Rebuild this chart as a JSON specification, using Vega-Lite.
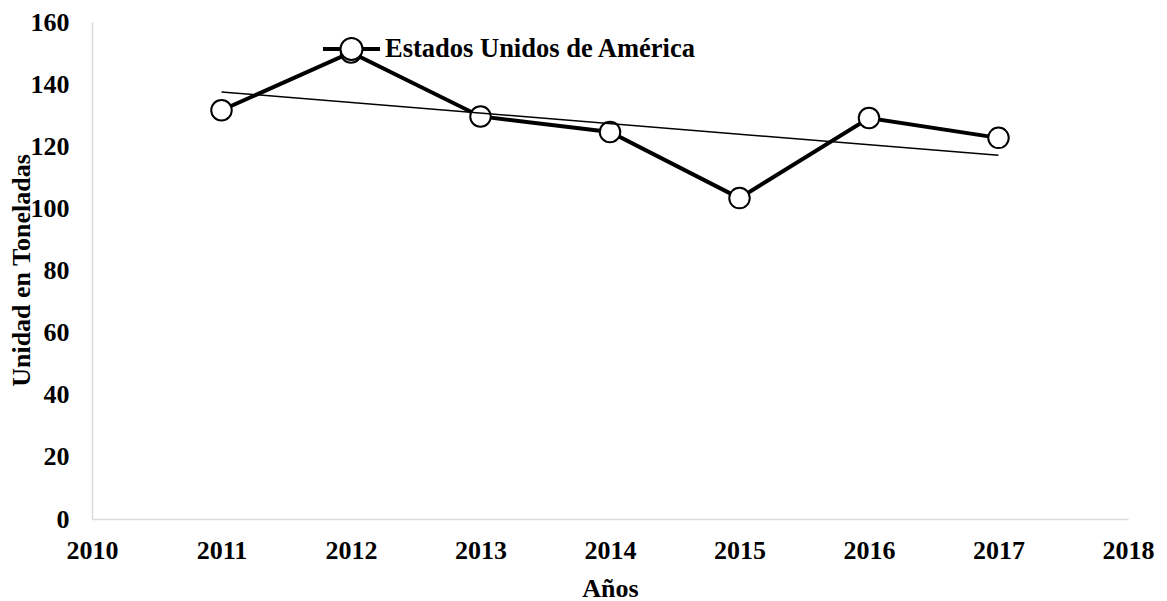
{
  "$schema": "https://vega.github.io/schema/vega-lite/v6.json",
  "width": 1036,
  "height": 497,
  "autosize": "none",
  "padding": {"left": 92, "top": 22, "right": 39, "bottom": 82},
  "background": "white",
  "config": {
    "view": {"stroke": null},
    "font": "Liberation Serif",
    "axis": {
      "grid": false,
      "ticks": false,
      "domainColor": "#d9d9d9",
      "domainWidth": 1.5,
      "labelFont": "Liberation Serif",
      "labelFontSize": 26,
      "labelFontWeight": "bold",
      "labelColor": "black",
      "titleFont": "Liberation Serif",
      "titleFontSize": 26,
      "titleFontWeight": "bold",
      "titleColor": "black"
    }
  },
  "data": {
    "values": [
      {"anio": 2011, "valor": 131.6, "serie": "Estados Unidos de América"},
      {"anio": 2012, "valor": 150.2, "serie": "Estados Unidos de América"},
      {"anio": 2013, "valor": 129.6, "serie": "Estados Unidos de América"},
      {"anio": 2014, "valor": 124.6, "serie": "Estados Unidos de América"},
      {"anio": 2015, "valor": 103.3, "serie": "Estados Unidos de América"},
      {"anio": 2016, "valor": 129.1, "serie": "Estados Unidos de América"},
      {"anio": 2017, "valor": 122.7, "serie": "Estados Unidos de América"}
    ]
  },
  "encoding": {
    "x": {
      "field": "anio",
      "type": "quantitative",
      "scale": {"domain": [2010, 2018], "nice": false, "zero": false},
      "axis": {
        "title": "Años",
        "values": [2010, 2011, 2012, 2013, 2014, 2015, 2016, 2017, 2018],
        "format": "d",
        "labelPadding": 18,
        "labelBaseline": "top",
        "labelFlush": false,
        "labelOverlap": false,
        "titleX": 518,
        "titleY": 69,
        "titleBaseline": "middle",
        "titleAlign": "center"
      }
    },
    "y": {
      "field": "valor",
      "type": "quantitative",
      "scale": {"domain": [0, 160], "nice": false},
      "axis": {
        "title": "Unidad en Toneladas",
        "values": [0, 20, 40, 60, 80, 100, 120, 140, 160],
        "labelPadding": 23,
        "labelFlush": false,
        "labelOverlap": false,
        "titleAngle": -90,
        "titleX": -71,
        "titleY": 248,
        "titleBaseline": "middle",
        "titleAlign": "center"
      }
    }
  },
  "layer": [
    {
      "mark": {"type": "line", "color": "black", "strokeWidth": 4},
      "encoding": {}
    },
    {
      "mark": {"type": "point", "shape": "circle", "filled": false, "fill": "white", "fillOpacity": 1, "opacity": 1, "strokeWidth": 2, "size": 420},
      "encoding": {
        "stroke": {
          "field": "serie",
          "type": "nominal",
          "scale": {"range": ["black"]},
          "legend": {
            "title": null,
            "orient": "none",
            "legendX": 231,
            "legendY": -1.5,
            "padding": 0,
            "symbolType": "M-1,-0.036H-0.4V0.036H-1Z M0.4,-0.036H1V0.036H0.4Z M-0.4,0A0.4,0.4,0,1,1,0.4,0A0.4,0.4,0,1,1,-0.4,0Z",
            "symbolSize": 3025,
            "symbolFillColor": "white",
            "symbolStrokeColor": "black",
            "symbolStrokeWidth": 2,
            "symbolOpacity": 1,
            "labelFont": "Liberation Serif",
            "labelFontSize": 26.5,
            "labelFontWeight": "bold",
            "labelColor": "black",
            "labelOffset": 5,
            "labelLimit": 600
          }
        }
      }
    },
    {
      "transform": [
        {"regression": "valor", "on": "anio", "extent": [2011, 2017]}
      ],
      "mark": {"type": "line", "color": "black", "strokeWidth": 1.5},
      "encoding": {}
    }
  ]
}
